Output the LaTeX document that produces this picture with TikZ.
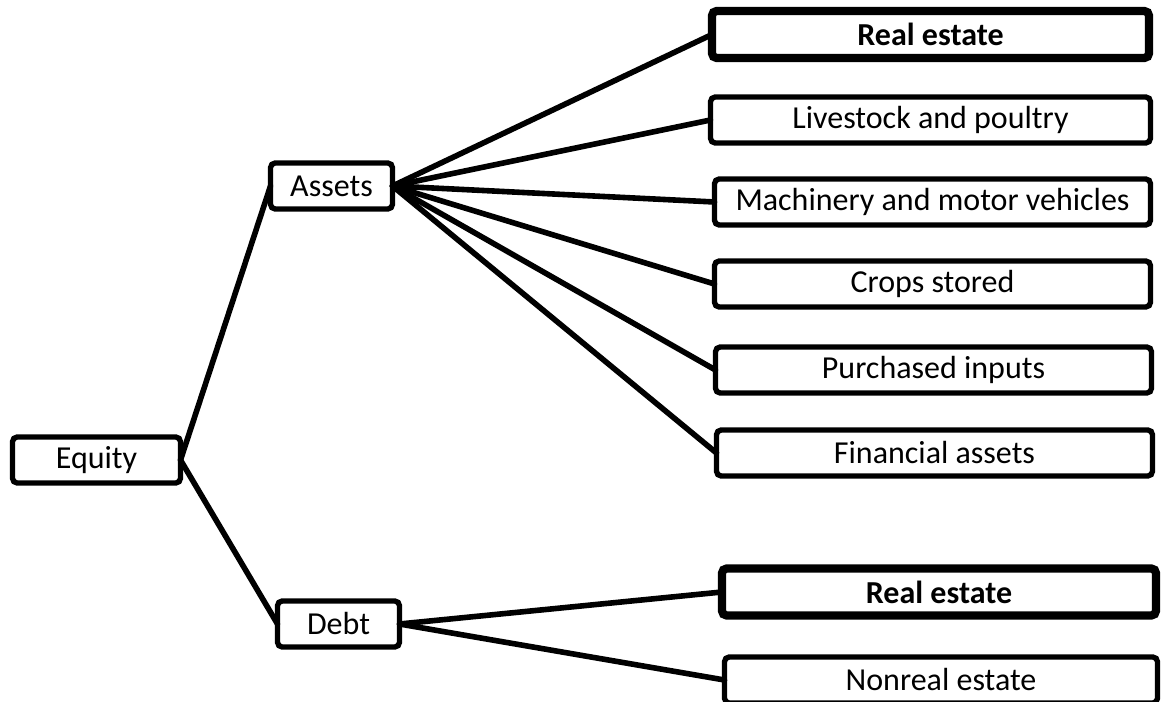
\documentclass[tikz,border=0pt]{standalone}
\usepackage{fontspec}
\setmainfont{Carlito}
\begin{document}
\begin{tikzpicture}[x=0.75pt,y=-0.75pt,
  box/.style={draw=black, fill=white, line width=4pt, rounded corners=3.5pt,
    inner sep=0pt, outer sep=0pt, minimum height=46*0.75pt,
    font=\fontsize{24}{28}\selectfont},
  boldbox/.style={box, line width=6.2pt, minimum height=47*0.75pt,
    font=\fontsize{24}{28}\selectfont\bfseries},
  link/.style={line width=4.2pt, line cap=round}]
\useasboundingbox (0,0) rectangle (1161,702);
% nodes
\node[box, minimum width=168*0.75pt] (equity) at (96.5,460) {Equity};
\node[box, minimum width=122*0.75pt] (assets) at (331.5,186) {Assets};
\node[box, minimum width=122*0.75pt] (debt) at (338.5,624) {Debt};
\node[boldbox, minimum width=437*0.75pt] (re1) at (930.5,34.5) {Real estate};
\node[box, minimum width=440*0.75pt] (live) at (930.5,120) {Livestock and poultry};
\node[box, minimum width=436*0.75pt] (mach) at (932.5,202) {Machinery and motor vehicles};
\node[box, minimum width=436*0.75pt] (crops) at (932.5,284) {Crops stored};
\node[box, minimum width=436*0.75pt] (purch) at (933.5,370) {Purchased inputs};
\node[box, minimum width=436*0.75pt] (fin) at (934.5,453) {Financial assets};
\node[boldbox, minimum width=434*0.75pt] (re2) at (939,592) {Real estate};
\node[box, minimum width=433*0.75pt] (nonreal) at (941,680) {Nonreal estate};
% connectors
\draw[link] (equity.east) -- (assets.west);
\draw[link] (equity.east) -- (debt.west);
\foreach \t in {re1,live,mach,crops,purch,fin}
  \draw[link] (assets.east) -- (\t.west);
\draw[link] (debt.east) -- (re2.west);
\draw[link] (debt.east) -- (nonreal.west);
\end{tikzpicture}
\end{document}
